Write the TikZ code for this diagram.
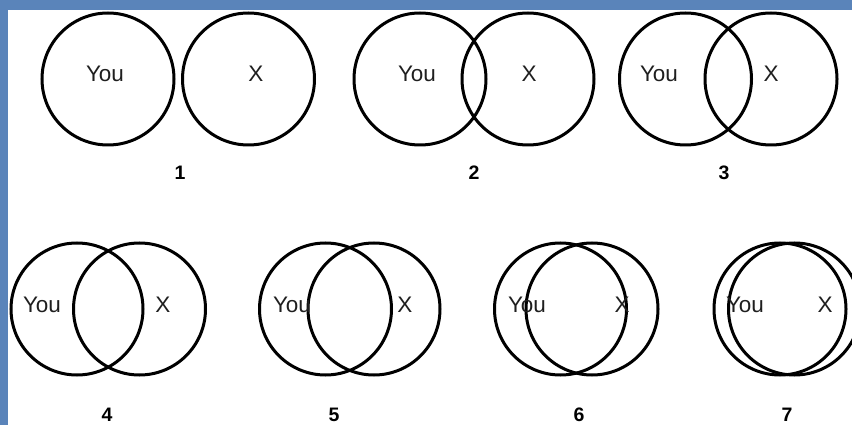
\documentclass[tikz,border=0pt]{standalone}
\usepackage{fontspec}
\setmainfont{Liberation Sans}
\usepackage{tikz}
\usetikzlibrary{positioning}
\definecolor{frameblue}{HTML}{5A84BA}

\begin{document}
\begin{tikzpicture}[
    x=1pt, y=-1pt,
    ring/.style={draw, circle, line width=3pt, minimum size=132pt, inner sep=0pt},
    tag/.style={font=\fontsize{22.5}{26}\selectfont, text=black!88, inner sep=0pt},
    stage/.style={font=\fontsize{19.5}{22}\selectfont\bfseries, inner sep=0pt}
]
\useasboundingbox (0,0) rectangle (852,425);
\fill[white] (0,0) rectangle (852,425);
\fill[frameblue] (0,0) rectangle (852,10);
\fill[frameblue] (0,0) rectangle (8,425);
% top row
\node[ring] (you1) at (108,79) {};
\node[ring] (x1) at (248.5,79) {};
\node[tag] (youtag1) at (105,74) {You};
\node[tag] (xtag1) at (256,74) {X};
\node[stage] (stage1) at (180,173) {1};
\node[ring] (you2) at (420,79) {};
\node[ring] (x2) at (528,79) {};
\node[tag] (youtag2) at (417,74) {You};
\node[tag] (xtag2) at (529,74) {X};
\node[stage] (stage2) at (474,173) {2};
\node[ring] (you3) at (685.5,79) {};
\node[ring] (x3) at (771,79) {};
\node[tag] (youtag3) at (659,74) {You};
\node[tag] (xtag3) at (771,74) {X};
\node[stage] (stage3) at (724,173) {3};
% bottom row
\node[ring] (you4) at (77,309) {};
\node[ring] (x4) at (139.5,309) {};
\node[tag] (youtag4) at (42,305) {You};
\node[tag] (xtag4) at (163,305) {X};
\node[stage] (stage4) at (107,415) {4};
\node[ring] (you5) at (325.5,309) {};
\node[ring] (x5) at (374,309) {};
\node[tag] (youtag5) at (292,305) {You};
\node[tag] (xtag5) at (405,305) {X};
\node[stage] (stage5) at (334,415) {5};
\node[ring] (you6) at (560.5,309) {};
\node[ring] (x6) at (592,309) {};
\node[tag] (youtag6) at (527,305) {You};
\node[tag] (xtag6) at (622,305) {X};
\node[stage] (stage6) at (579,415) {6};
\node[ring] (you7) at (780,309) {};
\node[ring] (x7) at (794.5,309) {};
\node[tag] (youtag7) at (745,305) {You};
\node[tag] (xtag7) at (825,305) {X};
\node[stage] (stage7) at (787,415) {7};
\end{tikzpicture}
\end{document}
